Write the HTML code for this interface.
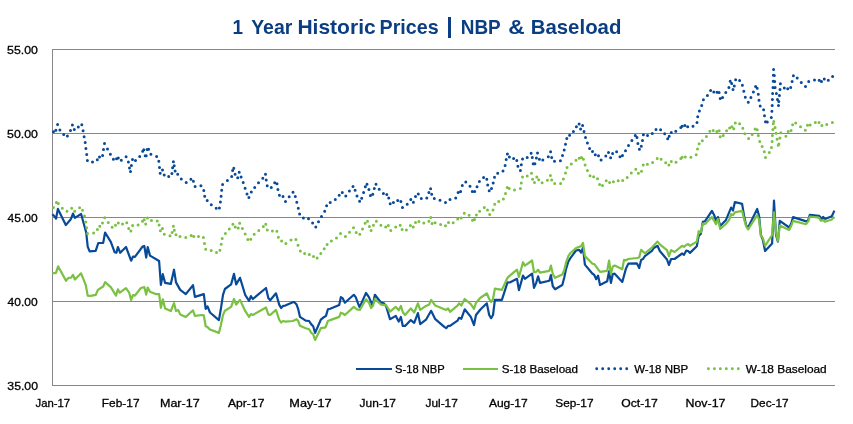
<!DOCTYPE html>
<html><head><meta charset="utf-8"><title>1 Year Historic Prices</title>
<style>
html,body{margin:0;padding:0;background:#fff;}
body{width:853px;height:424px;overflow:hidden;font-family:"Liberation Sans",sans-serif;}
svg{display:block;will-change:transform;transform:translateZ(0)}
text{font-family:"Liberation Sans",sans-serif;}
.ax{font-size:11.5px;fill:#000;stroke:#000;stroke-width:0.3px}
.lg{font-size:10.5px;fill:#000;stroke:#000;stroke-width:0.25px}
.title{font-size:21px;font-weight:bold;fill:#0B3D82}
</style></head><body>
<svg width="853" height="424" viewBox="0 0 853 424" xmlns="http://www.w3.org/2000/svg">
<rect width="853" height="424" fill="#fff"/>
<rect x="52" y="49" width="783" height="1" fill="#898689"/><rect x="52" y="133" width="783" height="1" fill="#898689"/><rect x="52" y="217" width="783" height="1" fill="#898689"/><rect x="52" y="301" width="783" height="1" fill="#898689"/><rect x="52" y="385" width="783" height="1" fill="#898689"/>
<rect x="448" y="17" width="3" height="21" fill="#0B3D82"/>
<rect x="52" y="49" width="1" height="337" fill="#898689"/>
<polyline fill="none" stroke="#084A98" stroke-width="2.2" stroke-linejoin="round" stroke-linecap="butt" points="52.3,214.2 54.2,216 56,218.7 57.9,208.9 65.8,225.1 70.8,219.2 73,213.6 74.9,217.9 81.1,214 86.2,232.5 87.7,246.6 89.6,251.3 95.7,250.8 98.3,243 103.2,242.8 105.1,232.5 110.8,241.9 114.7,252.3 116.4,252.8 117.9,247 120.2,252.8 126,247 131.1,260.7 133,256.5 134.9,256.9 142.5,246.6 144.3,246 146.2,257.5 147.7,247.1 150,255.6 159.1,261 160.9,284.8 162.8,274.2 165.1,282.9 170.8,283.9 174,269.7 176,282.4 180.2,289.9 185.8,294.1 193,285.2 194.9,296.9 203.8,294.1 205.7,308.8 207.5,306.3 210,312.5 218.9,320.1 220.8,309.3 223,294.8 224.9,289 231.1,284.4 234,273.9 236.2,284.4 240,277.8 245.3,295.2 249.1,300.8 250.9,296.1 252.8,299 266,288 268.3,298 270.2,300.3 276,293.3 279.2,304.6 281.1,308 283,305.9 285.3,305.6 292.8,302.2 294.3,302.2 296.6,304.6 298.1,308.8 300,316.9 305.7,320.7 309.1,321 311.3,324.4 313.2,326.3 315.1,332.9 320.8,319.7 323,317.8 326,315.9 327.9,309.3 330.2,308.8 339.2,305 340.9,297.1 342.8,298.4 344.9,302.7 353.8,294.8 355.7,297.1 359.4,306.9 359.8,306.9 366,292.9 368.9,297.1 372.6,305.6 374.9,294.8 381.1,302.7 384,303.3 386.2,306.5 390,319.2 395.8,315.9 398.7,321.6 400.9,316.9 402.8,325.9 405.1,325.9 410.8,320.1 414.2,322.9 417.9,313.1 420.2,324.1 426,319.7 431.1,310.8 435.3,319.2 444.3,326.9 446.2,328.2 448.1,325.9 450,325.9 457.5,320.7 459.1,317.8 461.3,318.8 464.7,309.3 470.8,316.9 474,325 476,315 480.2,309.7 486.8,303.3 489.2,315 491.1,318.2 493,315 494.9,299.9 501.9,299.9 507.5,282.4 509.8,282.5 517,278.8 518.9,290.1 521.1,282.5 523,275.6 524.9,278.8 532.1,273.7 534,287.8 536.2,282.9 538.1,276.3 540,282.9 549.4,280.7 550.9,275 552.8,286.3 555.1,289.2 562.3,285 564.2,277.8 566,269.3 568.3,261.8 570.2,258.4 576,250.5 579.2,249.9 581.1,252.7 583,247.6 584.9,264.6 592.5,273.7 594.3,275 596.2,279.2 598.1,275.6 600,285 607.2,281.2 609.1,271.2 610.9,282.9 612.8,274.1 614.7,273.7 622.3,282 626,268.4 628.3,263.7 636.8,263.3 639.2,268 641.1,259.9 643,259 644.9,256.1 651.9,250.8 653.8,248 657.5,245.8 659.8,251 667,259.5 668.9,265 671.1,259 674.5,259 682.1,253.5 684,254.8 686.2,250.7 688.1,251 690,252.9 696.8,246.3 698.7,235.9 700.9,233.7 702.8,221.8 705.1,221.2 711.9,210.8 714.2,215.2 716,220.8 717.9,217.1 720.2,226.1 726,219.9 731.1,207.6 733,210.5 734.9,202 742.1,203.9 744.3,217.1 746.2,225.6 748.1,227.5 757.2,209 759.1,216.1 760.9,235 762.8,239.7 765.1,251 772.1,243.5 774,200.7 776,235 777.9,241.6 779.8,220.8 789.2,227.5 791.1,223.7 793.1,217.1 807,221.6 808.4,219.5 809.8,214.8 819,215.9 822,218.9 823.2,216.9 824.9,218.9 831.8,216.2 834.4,210.6"/>
<polyline fill="none" stroke="#7AC143" stroke-width="2.2" stroke-linejoin="round" stroke-linecap="butt" points="52.3,273.3 56,272.9 58.1,266.3 66,280.8 68.3,278 71.1,277.6 73,274.8 74.9,279.5 81.1,273.3 85.8,285.2 87.7,295.6 90.6,295.9 95.8,294.8 97.9,289.9 103.2,286.5 105.1,282.2 110.8,287.1 116,295.6 117.9,289.3 119.8,292.7 126,288.2 129.2,292.7 131.1,299.9 133,295 134.9,295.6 140.9,288 144.3,287.1 146.2,294.6 147.7,287.5 150,291.8 155.7,294.1 159.1,294.1 160.9,307.8 162.8,299.3 165.1,308.4 170.8,311 174,303.1 176,311 178.3,310.1 180.2,314.4 185.8,316.9 193,310.3 194.9,315.9 201.9,315 203.8,315.4 205.7,326.3 207.5,327.1 210,329.5 218.9,332.9 220.8,325.4 223,315 224.9,310.8 231.1,306.9 234,299 236.2,304.6 240,299.9 245.3,311.2 249.1,316.9 250.9,314.1 252.8,315 266,307.5 268.3,314.4 270.2,315 276,309.9 279.2,319.7 281.1,322.5 283,321 285.3,321.6 292.8,321 296.6,319.2 298.1,320.7 300,325.8 305.7,328.2 309.1,329.2 311.3,332.9 313.2,334.4 315.1,339.9 320.8,328.2 323,327.8 325.5,327.3 327.9,321 330.2,320.1 339.2,316.9 340.9,312.7 342.8,313.5 344.9,315 353.8,306.9 355.7,308.4 357.5,309.7 359.4,309.5 359.8,309.9 366,299.3 368.9,302.7 371.1,308 373,305.6 374.9,299 381.1,304.6 386.2,305.2 390,311.6 395.8,306.9 398.7,310.3 400.9,305.9 402.8,312.2 405.1,315 410.8,308.4 414.2,312.5 417.9,303.3 420.2,309.9 426,305.9 429.2,304.6 431.1,299.9 435.3,305.6 444.3,309.3 446.2,309.9 448.1,308.4 450,311.8 457.5,305.6 459.1,303.3 461.3,305.6 464.7,299 470.8,304.1 474,308.8 476,302.7 480.2,298 486.8,293.3 489.2,299 491.1,301.8 493,299 494.9,288.6 501.9,289.9 507.5,277.8 509.8,275.6 517,269.7 518.9,276.9 521.1,269.3 523,262.2 524.9,265.6 532.1,260.5 534,272.2 536.2,271.8 538.1,269.7 540,272.7 549.4,270.8 550.9,265.6 552.8,274.1 555.1,277.8 562.3,274.4 564.2,270.3 566,262.7 568.3,256.1 570.2,253.3 576,248 581.1,246.1 583,242.9 584.9,256.1 592.5,263.7 594.3,264.1 600,271.8 607.2,270.8 609.1,260.5 610.9,274.1 612.8,266.5 614.7,265.6 622.3,269.3 624,259.9 626,260.3 628.3,259 636.8,258 639.2,257.5 641.1,249.9 644.9,253.3 651.9,247.6 657.5,241.6 659.8,244.4 667,250.1 668.9,256.3 671.1,250.1 674.5,252 682.1,245.8 684,246.9 686.2,245 688.1,244.1 690,245.8 696.8,241.6 698.7,231.2 700.9,232.2 702.8,223.7 705.1,224.1 711.9,217.1 714.2,220.8 716,224.2 717.9,219 720.2,229 726,223.7 729.2,219.9 731.1,214.2 733,215.2 734.9,212.4 742.1,210.8 744.3,219.9 746.2,226.5 748.1,229.3 757.2,215.2 759.1,219.9 760.9,235.9 762.8,237.8 765.1,245.8 772.1,235 774,212.4 776,232.2 777.9,241 779.8,225.6 789.2,229.9 791.1,226.1 793.1,220.9 806.1,224.2 808.4,221.2 809.8,216.5 819,217.7 820.8,220.7 823.2,220.1 824.9,221.8 831.8,219.5 834.4,216.9"/>
<path fill="none" stroke="#084A98" stroke-width="3" stroke-linecap="round" d="M53.4,131.7h0M55.9,130.3h0M57.6,124.6h0M59.9,129.9h0M63.7,134.5h0M67.4,135.9h0M70.5,130.6h0M72.4,124.9h0M74.3,129.6h0M78.3,126.9h0M81.8,124.8h0M83.1,130.7h0M84.1,136.7h0M85.2,142.6h0M85.9,148.5h0M86.7,154.5h0M87.4,160.4h0M92.5,162.1h0M97.3,159.7h0M99.5,156.9h0M102.6,155.6h0M103.5,149.4h0M104.5,143.6h0M107.5,149h0M110.4,154.3h0M113.4,159.3h0M116.5,158.7h0M118.3,158h0M121.3,160.3h0M126.1,156.7h0M128.4,162h0M132.5,159.6h0M131.4,165.5h0M129.5,167.9h0M130.5,171.5h0M135.5,160.6h0M139.7,156.5h0M142.7,151.2h0M143.8,149.7h0M145.2,155.8h0M146.2,155.8h0M147.1,149.4h0M148.6,149.2h0M150.9,154.3h0M156.6,156.6h0M158.8,161.3h0M159.5,167.4h0M162.5,170h0M160.2,173.2h0M164.2,174.9h0M168.7,176.4h0M171.9,173.6h0M172.6,167.7h0M173.4,161.7h0M174.2,165.7h0M175.1,171.1h0M177.7,174.2h0M181.3,178.9h0M186.2,182.5h0M190.9,179.2h0M193.4,181.3h0M195.1,186.4h0M200.9,185.7h0M203.8,190.4h0M204.7,196.2h0M207.2,200.6h0M211.3,204.7h0M216.2,208.3h0M219.4,207.9h0M220.4,202.1h0M221.1,196.2h0M221.7,190.2h0M222.6,184.5h0M227.4,180.4h0M231.7,176.6h0M232.6,170.6h0M233.8,168.3h0M235.1,174.2h0M237.7,177.7h0M239.2,172.3h0M241.1,177h0M243.2,182.6h0M245.1,188.3h0M247,194h0M248.9,197.5h0M251.3,192.1h0M254.7,187.4h0M258.5,182.8h0M262.8,178.3h0M265.5,174.2h0M266.2,180h0M267.2,185.8h0M271.3,187.5h0M274.7,182.8h0M277,183.8h0M277.9,189.6h0M279.4,195.3h0M283,196.4h0M285.5,201.5h0M289.2,196.8h0M293,192.3h0M295.3,196.4h0M296.8,202.3h0M298.3,208.3h0M299.6,214h0M303.4,217.9h0M308.5,218.7h0M312.6,223h0M315.8,227h0M318.5,221.7h0M321.5,216.4h0M324.7,211.3h0M326.6,205.7h0M330.2,202.5h0M335.3,199.4h0M339.2,195.3h0M342.3,192.5h0M345.8,196h0M349.4,191.1h0M353,186.4h0M355.1,190.2h0M357,196h0M359.6,201.3h0M361.7,198.3h0M363.6,192.5h0M365.3,186.8h0M367,184.2h0M368.9,189.6h0M370.4,195.5h0M372.8,194.3h0M374.3,188.5h0M376,184.3h0M379.2,189.2h0M383.4,193.4h0M386.8,194.5h0M388.7,198.1h0M390.2,203.8h0M393.4,202.5h0M397.7,200.6h0M400.9,201.5h0M402.5,207.5h0M407.2,204.3h0M410.8,199.6h0M413.4,202.3h0M415.5,196.6h0M418.3,194h0M421.3,198.5h0M426.8,197.9h0M428.9,192.5h0M430.6,188.7h0M431.7,194.3h0M434.3,198.5h0M440,200.2h0M445.5,202.5h0M450,199.4h0M455.7,197.9h0M458.1,192.5h0M460.6,191.4h0M462.3,185.6h0M465.8,182h0M470,186.3h0M472.3,191.6h0M474.7,191.6h0M477,186.7h0M479.4,181.4h0M483.6,177.5h0M486.8,179.3h0M487.7,185h0M489.2,190.7h0M491.5,188.6h0M493.2,183.1h0M494.5,177.3h0M497.7,173.3h0M503,171h0M505.1,165.6h0M506.2,159.5h0M507.4,153.9h0M509.4,156.9h0M513.6,158.4h0M516.8,160.5h0M517.9,166.3h0M520.4,170.5h0M521.3,164.8h0M522.5,159h0M527.2,157.6h0M531.1,153.3h0M532.3,157.6h0M533.2,163.7h0M534.9,163.7h0M536.4,158h0M537.5,153.1h0M539.4,159.2h0M542.8,160.1h0M548.3,156.7h0M550.6,151.8h0M551.7,157.6h0M554.5,161.2h0M560.4,160.7h0M562.5,155.6h0M564.2,150.1h0M565.5,144.2h0M566.8,138.4h0M569.6,135.2h0M573.4,131.6h0M576.4,126.7h0M579.1,124.1h0M580.6,129h0M582.6,125.6h0M584,131.6h0M585.5,137.5h0M587.4,143.1h0M589.6,148.6h0M592.5,151.4h0M595.3,154.8h0M598.5,155.8h0M601.1,159.9h0M605.8,156.1h0M608.5,152.4h0M610.6,157.8h0M612.6,153.5h0M616.6,151.8h0M620,156.7h0M622.5,155.4h0M625.5,150.7h0M628.5,145.6h0M631.9,140.5h0M635.3,135.4h0M637,137.5h0M637.9,143.5h0M639.4,149.2h0M641.3,146.3h0M642.5,140.5h0M643.4,134.8h0M647.5,135.4h0M652.3,133.5h0M656,129.5h0M660.6,129.7h0M664.7,133.7h0M667.7,138.8h0M669.2,136.3h0M671.3,132.4h0M675.8,131.2h0M680.8,127.6h0M682.1,126.3h0M684.9,125.6h0M687.7,126.7h0M693,126.3h0M697,122.5h0M697.7,116.7h0M699.4,111h0M701.7,105.4h0M703.4,99.7h0M707.4,95.6h0M710.6,90.5h0M713.8,92h0M717,92.2h0M719.1,92.5h0M720.2,98.6h0M722.6,97.6h0M725.8,92.5h0M728.9,87.5h0M733,89.5h0M734.3,85.9h0M730.2,81.3h0M731.7,83.4h0M735.6,79.8h0M739.6,80.4h0M742.4,85.3h0M743.8,91.3h0M745.3,97.2h0M748.3,102.3h0M750.9,97.5h0M753.4,92.1h0M755.6,86.4h0M757.2,88.3h0M758.3,94.3h0M759,100.2h0M760.2,106h0M763.6,109.8h0M764.5,115.8h0M765.5,121.7h0M767.3,121.9h0M771.3,117.4h0M771.9,111.3h0M772.2,105.5h0M772.4,99.4h0M772.6,93.4h0M773,87.4h0M773.2,81.3h0M773.4,75.3h0M773.6,69.4h0M774.3,75.5h0M774.7,81.5h0M775.1,87.5h0M776.4,93.6h0M777.5,99.4h0M778.5,105.5h0M778.8,101.5h0M779.4,95.5h0M780,89.6h0M780.4,83.8h0M784.3,87.9h0M787.7,88.7h0M790.7,87.5h0M792.1,81.5h0M793.4,75.7h0M797.2,78.1h0M801.3,82.5h0M805.5,86.6h0M808.7,81.5h0M814.5,80h0M819.2,80.2h0M821.5,81.5h0M824.3,78.9h0M828.3,80.2h0M832.6,76.6h0"/>
<path fill="none" stroke="#7AC143" stroke-width="3" stroke-linecap="round" d="M53.4,207.5h0M56.4,202.6h0M58.3,203.6h0M62.3,208.3h0M67,211.3h0M71.7,208.3h0M74.7,211.3h0M79.6,207.7h0M82.5,210.2h0M84.5,216h0M85.8,221.9h0M86.6,227.7h0M87.5,233.6h0M93.6,233h0M97.4,229.4h0M99.8,226.2h0M102.5,223h0M104.7,217.7h0M108.3,222.5h0M112.1,227.2h0M115.5,225.3h0M118.3,223h0M122.5,224h0M126.8,222.8h0M128.7,228.5h0M130.9,231.1h0M132.6,225.5h0M138.1,224.9h0M142.5,221.3h0M144.2,219.8h0M145.7,224h0M147.4,218.1h0M151.5,220.6h0M157.2,221.1h0M159.1,224.9h0M162.5,228.5h0M160.4,230.8h0M164.3,234.3h0M170,235.8h0M172.1,232.5h0M173.4,226.2h0M174.3,230.2h0M176,234.7h0M180,236.4h0M185.8,237.4h0M191.1,235.5h0M193.8,236.4h0M198.5,236.6h0M203.4,237.4h0M204.5,243.4h0M205.7,249.2h0M211.2,250.4h0M216.5,252.6h0M219.9,250.2h0M221.2,244.3h0M222.2,238.5h0M225.4,233.6h0M229.3,229.1h0M232.9,224.2h0M235.2,227h0M238.2,227.9h0M239.7,223.2h0M242.4,228.5h0M245.2,234h0M247.8,239.4h0M250.8,239.2h0M254.2,234.3h0M258.8,230.4h0M263.3,226.6h0M265.8,224.2h0M267.3,230h0M272.4,230.9h0M276.9,231.3h0M278.4,237.2h0M281.6,241.1h0M285.9,243.4h0M291,240h0M295.9,239.6h0M298,245.3h0M300.3,250.9h0M304.6,253.6h0M309.3,254.5h0M313.5,256.6h0M317.1,257.9h0M320.8,253.6h0M324.2,248.7h0M327.1,244.5h0M331.4,241.1h0M336.5,237.9h0M340.5,233.6h0M345.4,236.6h0M349.5,232.3h0M353.5,227.7h0M356.2,232.5h0M359.8,234.2h0M362.5,228.9h0M365.1,223.2h0M367.5,221.3h0M369.4,226.6h0M371.1,230.6h0M373.4,225.3h0M376.4,221.3h0M380.9,225.3h0M385.7,227h0M388.3,225.5h0M390.8,230.4h0M395.7,227h0M400.2,225.3h0M402.1,229.6h0M406.4,230h0M410.4,225.5h0M413.2,227h0M415.5,222.5h0M418.9,221.5h0M423.8,223h0M428.9,221.3h0M430.8,217.4h0M432.1,223.6h0M435.1,222.8h0M440.6,224.5h0M445.5,225.7h0M448.5,222.5h0M453.2,222.8h0M457.7,219.1h0M505.5,193.5h0M507.2,187.5h0M509.2,188.6h0M514.5,189.9h0M520.4,188.6h0M521.3,182.9h0M522.5,177.1h0M527.2,176.1h0M531.5,173.3h0M532.6,179.2h0M534.5,182.5h0M536.8,177.1h0M538.7,179.7h0M542.1,182.7h0M547.4,180.3h0M550.4,175.4h0M551.7,179.9h0M554.7,183.5h0M560.6,183.5h0M563.4,179h0M565.5,173.1h0M567,167.5h0M571.3,164.1h0M576,160.3h0M579.2,158.2h0M581.5,157.6h0M583.4,159.3h0M585.1,165h0M587.4,170.5h0M590,175.8h0M593.6,176.7h0M597.5,178.8h0M599.6,184.4h0M602.5,185.6h0M606.2,180.8h0M609.6,182.5h0M643.2,165h0M647.4,164.2h0M652.6,162.4h0M657.2,158.4h0M661.1,159.3h0M665.7,162.7h0M668.9,165h0M671.3,161.4h0M676,162.2h0M680.8,158.4h0M682.1,157.3h0M685.3,157.1h0M690.9,157.3h0M696.2,154.8h0M697.5,149h0M699.1,143.7h0M702.3,140.8h0M706.4,136.5h0M709.8,131.2h0M713.2,130.5h0M716.8,131.6h0M719.1,130.8h0M720.2,136.7h0M723.2,135.4h0M726.6,130.7h0M729.6,128h0M731.9,126.7h0M733.8,128.8h0M735.3,122.9h0M739.6,123.7h0M742.8,128.3h0M744.9,133.8h0M748.6,138.5h0M752.2,134.4h0M755.1,129h0M757.2,129.8h0M758.3,135.6h0M759.7,141.5h0M762.1,146.4h0M771.5,147.5h0M772.1,141.6h0M772.4,135.5h0M772.9,129.6h0M773.3,123.7h0M773.8,121.5h0M775.1,127.5h0M776.1,133.3h0M777.1,139.3h0M778.2,145.3h0M778.9,144h0M779.9,138h0M780.9,132.7h0M785.9,136.2h0M788.2,131.5h0M791.1,130.4h0M792.6,124.8h0M795.7,123.1h0M800.5,126.8h0M805.3,130.3h0M807.5,125.2h0M810.2,125.1h0M461.2,218.1h0M464.3,213.3h0M469.1,215.3h0M472.5,220.3h0M474.5,219.5h0M476.4,215h0M479.6,211.2h0M484.3,207.6h0M487.5,209.9h0M489.7,214.5h0M493,210h0M494.7,204.2h0M498.7,201.5h0M503.4,199h0M613.4,181.8h0M618.2,180.8h0M622.7,180.6h0M627.2,177.5h0M631.3,173.1h0M635.8,169.3h0M638.4,173.2h0M641.5,171.3h0M764.3,151.8h0M765.5,157.5h0M769.3,152.6h0M815.3,122.6h0M819,122.5h0M821.9,125.5h0M826.8,124.5h0M832.4,122.6h0"/>
<rect x="356" y="368" width="36" height="2" fill="#084A98"/>
<rect x="463" y="368" width="35" height="2" fill="#7AC143"/>
<path fill="none" stroke="#084A98" stroke-width="2.9" stroke-linecap="round" d="M596.7,368.8h0M602.7,368.8h0M608.7,368.8h0M614.7,368.8h0M620.7,368.8h0M626.7,368.8h0"/>
<path fill="none" stroke="#7AC143" stroke-width="2.9" stroke-linecap="round" d="M708.4,368.8h0M714.38,368.8h0M720.36,368.8h0M726.34,368.8h0M732.32,368.8h0M738.3,368.8h0"/>
<text x="7.10" y="53.8" class="ax" textLength="30.80" lengthAdjust="spacingAndGlyphs">55.00</text>
<text x="7.10" y="137.8" class="ax" textLength="30.80" lengthAdjust="spacingAndGlyphs">50.00</text>
<text x="7.55" y="221.8" class="ax" textLength="30.04" lengthAdjust="spacingAndGlyphs">45.00</text>
<text x="7.55" y="305.8" class="ax" textLength="30.04" lengthAdjust="spacingAndGlyphs">40.00</text>
<text x="7.35" y="389.8" class="ax" textLength="30.65" lengthAdjust="spacingAndGlyphs">35.00</text>
<text x="35.53" y="406.8" class="ax" textLength="34.66" lengthAdjust="spacingAndGlyphs">Jan-17</text>
<text x="101.83" y="406.8" class="ax" textLength="37.67" lengthAdjust="spacingAndGlyphs">Feb-17</text>
<text x="159.94" y="406.8" class="ax" textLength="39.77" lengthAdjust="spacingAndGlyphs">Mar-17</text>
<text x="228.01" y="406.8" class="ax" textLength="36.41" lengthAdjust="spacingAndGlyphs">Apr-17</text>
<text x="289.30" y="406.8" class="ax" textLength="42.40" lengthAdjust="spacingAndGlyphs">May-17</text>
<text x="359.57" y="406.8" class="ax" textLength="36.43" lengthAdjust="spacingAndGlyphs">Jun-17</text>
<text x="425.45" y="406.8" class="ax" textLength="32.40" lengthAdjust="spacingAndGlyphs">Jul-17</text>
<text x="488.94" y="406.8" class="ax" textLength="38.73" lengthAdjust="spacingAndGlyphs">Aug-17</text>
<text x="555.31" y="406.8" class="ax" textLength="38.18" lengthAdjust="spacingAndGlyphs">Sep-17</text>
<text x="621.23" y="406.8" class="ax" textLength="36.53" lengthAdjust="spacingAndGlyphs">Oct-17</text>
<text x="685.47" y="406.8" class="ax" textLength="39.98" lengthAdjust="spacingAndGlyphs">Nov-17</text>
<text x="750.58" y="406.8" class="ax" textLength="38.02" lengthAdjust="spacingAndGlyphs">Dec-17</text>
<text x="395.11" y="372.7" class="lg" textLength="49.58" lengthAdjust="spacingAndGlyphs">S-18 NBP</text>
<text x="501.73" y="372.7" class="lg" textLength="76.36" lengthAdjust="spacingAndGlyphs">S-18 Baseload</text>
<text x="634.22" y="372.7" class="lg" textLength="54.03" lengthAdjust="spacingAndGlyphs">W-18 NBP</text>
<text x="745.85" y="372.7" class="lg" textLength="80.84" lengthAdjust="spacingAndGlyphs">W-18 Baseload</text>
<text x="232.55" y="33.8" class="title" textLength="10.50" lengthAdjust="spacingAndGlyphs">1</text>
<text x="251.17" y="33.8" class="title" textLength="41.14" lengthAdjust="spacingAndGlyphs">Year</text>
<text x="297.42" y="33.8" class="title" textLength="78.27" lengthAdjust="spacingAndGlyphs">Historic</text>
<text x="379.58" y="33.8" class="title" textLength="59.03" lengthAdjust="spacingAndGlyphs">Prices</text>
<text x="460.71" y="33.8" class="title" textLength="40.00" lengthAdjust="spacingAndGlyphs">NBP</text>
<text x="508.30" y="33.8" class="title" textLength="16.40" lengthAdjust="spacingAndGlyphs">&amp;</text>
<text x="530.72" y="33.8" class="title" textLength="90.66" lengthAdjust="spacingAndGlyphs">Baseload</text>
</svg>
</body></html>
